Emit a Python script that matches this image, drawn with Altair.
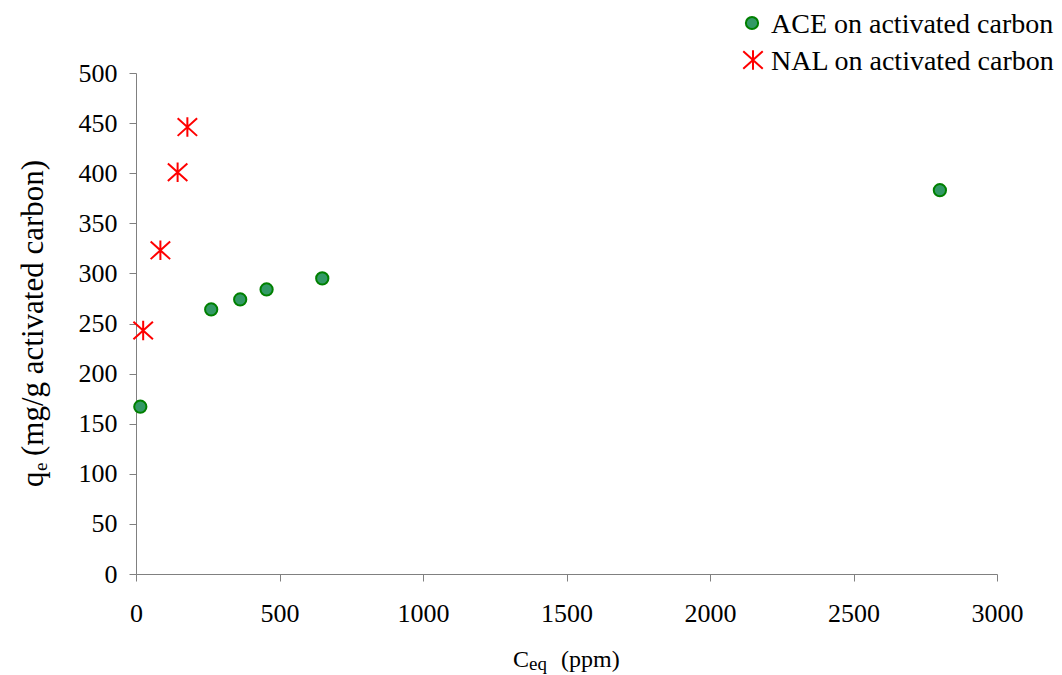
import altair as alt
import pandas as pd

# Adsorption isotherm data: equilibrium concentration (ppm) vs uptake (mg/g)
ace_ceq = [15, 262, 363, 455, 649, 2801]
ace_qe = [167, 264, 274, 284, 295, 383]
nal_ceq = [25, 85, 145, 179]
nal_qe = [243, 323, 401, 446]

series_names = ["ACE on activated carbon", "NAL on activated carbon"]
x_ticks = [0, 500, 1000, 1500, 2000, 2500, 3000]
y_ticks = [0, 50, 100, 150, 200, 250, 300, 350, 400, 450, 500]

FONT = "Liberation Serif"
AXIS_GRAY = "#808080"
ACE_FILL = "#339966"
ACE_STROKE = "#008000"
NAL_RED = "#ff0000"
STAR = "M-1,-0.9L1,0.9M-1,0.9L1,-0.9M0,-1L0,1"

ace_df = pd.DataFrame({"ceq": ace_ceq, "qe": ace_qe})
nal_df = pd.DataFrame({"ceq": nal_ceq, "qe": nal_qe})

x_enc = alt.X(
    "ceq:Q",
    scale=alt.Scale(domain=[0, 3000], nice=False),
    axis=alt.Axis(
        values=x_ticks, title=None, grid=False, format="d",
        labelFont=FONT, labelFontSize=26, labelColor="black",
        labelFlush=False, labelOverlap=False, labelPadding=19,
        domainColor=AXIS_GRAY, tickColor=AXIS_GRAY, tickSize=7,
    ),
)
y_enc = alt.Y(
    "qe:Q",
    scale=alt.Scale(domain=[0, 500], nice=False),
    axis=alt.Axis(
        values=y_ticks, title=None, grid=False, format="d",
        labelFont=FONT, labelFontSize=26, labelColor="black",
        labelOverlap=False, labelPadding=12,
        domainColor=AXIS_GRAY, tickColor=AXIS_GRAY, tickSize=7,
    ),
)

ace = alt.Chart(ace_df).mark_point(
    shape="circle", filled=True, fill=ACE_FILL, stroke=ACE_STROKE,
    strokeWidth=2, size=150, opacity=1,
).encode(x=x_enc, y=y_enc)

nal = alt.Chart(nal_df).mark_point(
    shape=STAR, filled=False, stroke=NAL_RED, strokeWidth=2, size=380, opacity=1,
).encode(x=x_enc, y=y_enc)


def label(text, x, y, size, angle=0):
    """A single piece of free text placed in plot-area pixel coordinates."""
    kw = dict(font=FONT, fontSize=size, align="left", baseline="alphabetic",
              color="black")
    if angle:
        kw["angle"] = angle
    return alt.Chart(pd.DataFrame({"t": [text]})).mark_text(**kw).encode(
        text="t:N", x=alt.value(x), y=alt.value(y)
    )


def legend_symbol(x, y, **mark):
    return alt.Chart(pd.DataFrame({"s": [0]})).mark_point(opacity=1, **mark).encode(
        x=alt.value(x), y=alt.value(y)
    )


# x-axis title: C with subscript "eq"
x_title = [
    label("C", 377, 594, 24),
    label("eq", 393, 597, 19),
    label("(ppm)", 425, 594, 24),
]

# y-axis title (rotated): q with subscript "e"
y_title = [
    label("q", -93, 414, 31, angle=270),
    label("e", -89, 398, 19, angle=270),
    label("(mg/g activated carbon)", -93, 383, 31, angle=270),
]

legend = [
    legend_symbol(616, -50, shape="circle", filled=True, fill=ACE_FILL,
                  stroke=ACE_STROKE, strokeWidth=2, size=150),
    label(series_names[0], 635, -40, 28),
    legend_symbol(617, -13, shape=STAR, filled=False, stroke=NAL_RED,
                  strokeWidth=2, size=380),
    label(series_names[1], 635, -3, 28),
]

chart = alt.layer(ace, nal, *x_title, *y_title, *legend).properties(
    width=861,
    height=501,
    autosize="none",
    padding={"left": 136, "top": 73, "right": 65, "bottom": 101},
).configure(font=FONT).configure_view(stroke=None)

chart.save("out.html", embed_options={"renderer": "svg", "actions": False})
